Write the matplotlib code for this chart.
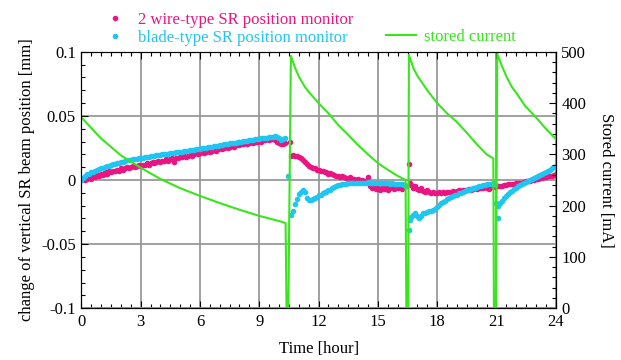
import numpy as np
import matplotlib.pyplot as plt
from matplotlib.lines import Line2D
from matplotlib.ticker import MultipleLocator

plt.rcParams['font.family'] = ['Liberation Serif', 'DejaVu Serif']
plt.rcParams['font.size'] = 12
plt.rcParams['axes.unicode_minus'] = False

# beam position change, in micrometres, sampled every 0.1 hour per fill
# fill 1 : 0.0 - 10.3 h
t1 = np.round(np.arange(0.0, 10.35, 0.1), 1)
wire1 = [0, 1, 0, 1, 2, 1, 3, 2, 4, 3, 5, 4, 6, 5, 7, 6, 7, 7, 8, 7,
         9, 8, 9, 10, 9, 10, 11, 10, 11, 12, 11, 12, 12, 13, 12, 13, 14, 13, 14, 15,
         14, 15, 15, 16, 15, 16, 17, 14, 17, 17, 18, 18, 19, 18, 19, 20, 19, 20, 21, 20,
         21, 22, 21, 22, 23, 22, 23, 24, 23, 24, 25, 24, 25, 26, 25, 26, 27, 26, 27, 28,
         27, 28, 28, 29, 28, 29, 30, 29, 30, 30, 31, 30, 31, 31, 32, 31, 32, 32, 31, 30,
         29, 28, 28, 29]
blade1 = [0, 1.5, 3, 4.5, 5, 6, 6.5, 7, 7.8, 8.3, 9, 9.5, 10, 10.6, 11.2, 11.7, 12.2, 12.7, 13.2, 13.6,
          14, 14.4, 14.9, 15.3, 15.6, 15.8, 16, 16.2, 16.5, 16.8, 17, 17.3, 17.6, 17.9, 18.1, 18.4, 18.7, 18.9, 19.2, 19.4,
          19.6, 19.9, 20.1, 20.3, 20.6, 20.8, 21, 21.3, 21.5, 21.7, 22, 22.2, 22.4, 22.7, 22.9, 23.2, 23.5, 23.7, 24, 24.2,
          24.5, 24.8, 25, 25.3, 25.6, 25.8, 26.1, 26.4, 26.7, 26.9, 27.2, 27.5, 27.7, 28, 28.2, 28.5, 28.7, 29, 29.2, 29.5,
          29.7, 30, 30.2, 30.5, 30.7, 31, 31.2, 31.5, 31.7, 32, 32.2, 32.4, 32.6, 32.8, 33, 33.3, 33.6, 33.8, 34, 33.6,
          32.5, 31.5, 31.8, 32.4]

# fill 2 : 10.6 - 16.4 h
t2 = np.round(np.arange(10.6, 16.45, 0.1), 1)
wire2 = [19, 19.5, 19, 18.5, 18, 17, 15.5, 14, 12.5, 11, 10, 9.5, 9, 8, 8, 7, 7, 6, 6, 5,
         5.5, 4.5, 4, 3, 3.5, 2.5, 3, 2, 1.5, 1, 2, 0.5, 1, 0, 0.5, -0.5, 0, -1, -0.5, 2,
         -5, -6.5, -5.5, -7, -6, -7.5, -6, -7, -5.5, -7.5, -6.5, -5, -7, -6, -6.5, -5.5, -7, -5, -4.5]
blade2 = [-27, -24, -19, -15, -11, -9, -8, -9, -14, -15.5, -15.5, -15, -14, -13, -12, -11.5, -10.5, -9.5, -9, -8,
          -7.5, -6.5, -5.5, -5, -4, -4, -3.5, -3, -3, -2.5, -2.5, -2, -2.5, -2, -2, -2, -2.5, -2, -2, -1.5,
          -2, -2, -2.5, -2, -2, -2.5, -2.5, -2.5, -2.5, -2.5, -3, -2.5, -3, -3, -3, -3.5, -3.5, -4, -4.5]

# fill 3 : 16.6 - 20.9 h
t3 = np.round(np.arange(16.6, 20.95, 0.1), 1)
wire3 = [-2, -4, -6, -5, -7, -8, -6.5, -8.5, -9, -8, -9.5, -10, -9.5, -10, -10, -9.5, -10, -9.5, -10, -9,
         -9.5, -9, -8.5, -9, -8.5, -8, -8.5, -7.5, -8, -7.5, -7, -7.5, -7, -6.5, -7, -6.5, -6, -6.5, -5.5, -6,
         -7, -5.5, -5, -5.5]
blade3 = [-31, -29, -27, -25.5, -28, -30, -28, -26, -25.5, -25, -24.5, -24, -23.5, -22.5, -21, -19.5, -18, -17, -16, -15,
          -14, -13.5, -12.5, -12, -11.5, -10.5, -10, -9, -8.5, -8, -7.5, -7, -6.5, -6, -5.5, -5, -4.5, -4, -4, -3.5,
          -3, -3, -2.5, -3]

# fill 4 : 21.1 - 24.0 h
t4 = np.round(np.arange(21.1, 24.05, 0.1), 1)
wire4 = [-5, -4.5, -4.5, -4, -4, -3.5, -3.5, -3, -3, -2.5, -2.5, -2, -2, -1.5, -1, -1, -0.5, 0, 0, 0.5,
         1, 1.5, 1.5, 2, 2.5, 3, 3, 3.5, 4, 4.5]
blade4 = [-20, -18, -16, -14, -12.5, -11, -9.5, -8.5, -7, -6, -5, -4, -3, -2, -1.5, -0.5, 0, 1, 1.5, 2.5,
          3, 4, 4.5, 5.5, 6, 7, 8, 9, 10, 11]

# isolated points around injections
wire_extra_t = [10.55, 16.58]
wire_extra = [30, 12.5]
blade_extra_t = [10.47, 16.55, 21.0, 21.06]
blade_extra = [3.5, -39, -18, -30]

# stored current [mA]
cur_t = [0.0, 1.0, 2.0, 3.0, 4.0, 5.0, 6.0, 7.0, 8.0, 9.0, 10.0, 10.33, 10.38, 10.47,
         10.6, 10.8, 11.0, 11.3, 11.5, 12.0, 12.5, 13.0, 13.5, 14.0, 14.5, 15.0, 15.5, 16.0, 16.4, 16.44, 16.53,
         16.57, 16.8, 17.0, 17.5, 18.0, 18.5, 19.0, 19.5, 20.0, 20.5, 20.84, 20.87, 20.97,
         21.04, 21.3, 21.5, 21.77, 22.0, 22.44, 23.0, 23.5, 24.0]
cur = [372, 331, 298, 274, 252, 234, 219, 205, 192, 180, 170, 166, 0, 0,
       492, 470, 452, 432, 422, 400, 380, 357, 338, 318, 300, 283, 270, 258, 250, 0, 0,
       494, 468, 453, 425, 400, 380, 363, 342, 320, 300, 292, 0, 0,
       496, 470, 452, 432, 420, 395, 372, 350, 330]

pink = '#ea1580'
blue = '#1fc6f2'
green = '#38e61c'

t_all = np.concatenate([t1, t2, t3, t4])
wire = np.array(wire1 + wire2 + wire3 + wire4) / 1000.0
blade = np.array(blade1 + blade2 + blade3 + blade4) / 1000.0

fig = plt.figure(figsize=(6.21, 3.6), dpi=100)
ax = fig.add_axes([0.131, 0.144, 0.764, 0.712])
ax2 = ax.twinx()

ax.plot(t_all, wire, 'o', ms=4.0, mec='none', color=pink)
ax.plot(wire_extra_t, np.array(wire_extra) / 1000.0, 'o', ms=4.0, mec='none', color=pink)
ax.plot(t_all, blade, 'o', ms=4.0, mec='none', color=blue)
ax.plot(blade_extra_t, np.array(blade_extra) / 1000.0, 'o', ms=4.0, mec='none', color=blue)

ax2.plot(cur_t, cur, color=green, lw=1.5)

ax.set_xlim(0, 24)
ax.set_ylim(-0.1, 0.1)
ax2.set_ylim(0, 500)

ax.set_xticks([0, 3, 6, 9, 12, 15, 18, 21, 24])
ax.xaxis.set_minor_locator(MultipleLocator(0.5))
ax.set_yticks([-0.1, -0.05, 0, 0.05, 0.1])
ax.set_yticklabels(['-0.1', '-0.05', '0', '0.05', '0.1'])
ax.yaxis.set_minor_locator(MultipleLocator(0.01))
ax2.set_yticks([0, 100, 200, 300, 400, 500])
ax2.yaxis.set_minor_locator(MultipleLocator(20))

ax.grid(True, which='major', color='#989898', lw=1.3)
ax.set_axisbelow(True)

ax.tick_params(which='both', direction='in', top=True, right=False, width=0.8, pad=4)
ax.tick_params(which='major', length=5)
ax.tick_params(which='minor', length=3)
ax2.tick_params(which='both', direction='in', width=0.8, pad=4)
ax2.tick_params(which='major', length=5)
ax2.tick_params(which='minor', length=3)

ax.set_xlabel('Time [hour]', labelpad=8)
ax.set_ylabel('change of vertical SR beam position [mm]', labelpad=4)
ax2.set_ylabel('Stored current [mA]', rotation=270, labelpad=20)

h1 = Line2D([], [], ls='none', marker='o', ms=4, mec='none', color=pink)
h2 = Line2D([], [], ls='none', marker='o', ms=4, mec='none', color=blue)
h3 = Line2D([], [], color=green, lw=1.5)
fig.legend([h1, h2], ['2 wire-type SR position monitor', 'blade-type SR position monitor'],
           loc='upper left', bbox_to_anchor=(0.147, 1.0), frameon=False, handlelength=1.4,
           handletextpad=0.7, labelspacing=0.12, labelcolor=[pink, blue], borderpad=0.2)
fig.legend([h3], ['stored current'], loc='upper left', bbox_to_anchor=(0.603, 0.952),
           frameon=False, handlelength=1.8, handletextpad=0.5, labelcolor=[green], borderpad=0.2)

fig.savefig('out.png', dpi=100)
